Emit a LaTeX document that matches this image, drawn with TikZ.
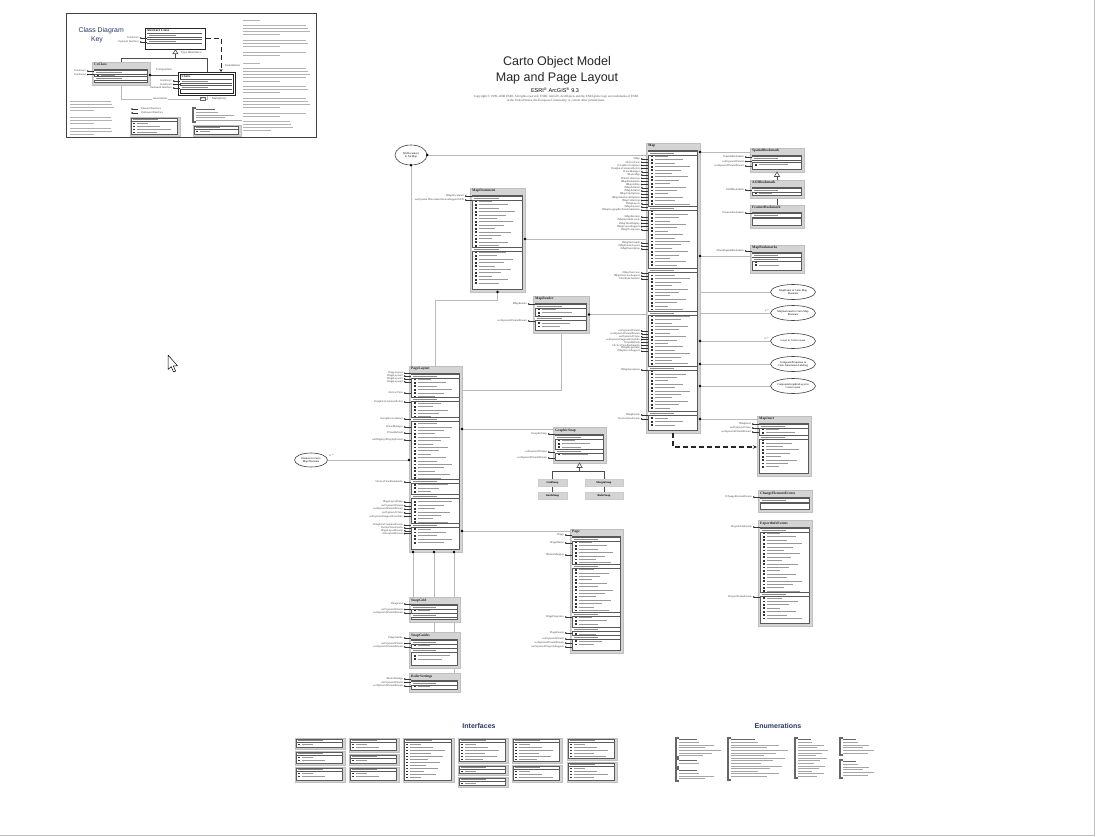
\documentclass[tikz,border=0pt]{standalone}
\usepackage{fontspec}
\setmainfont{Liberation Serif}
\setsansfont{Liberation Sans}
\usepackage{tikz}
\usetikzlibrary{calc,arrows.meta,positioning,shapes.geometric}
\definecolor{boxgray}{RGB}{212,212,212}
\definecolor{edgegray}{RGB}{90,90,90}
\definecolor{linkgray}{RGB}{185,185,185}
\definecolor{keyblue}{RGB}{38,56,104}
\pgfdeclarelayer{back}
\pgfsetlayers{back,main}
\newcounter{lblno}

% header band inside a class box
\newcommand{\clsband}[3]{%
  \fill[white] (#1+2.3,#3-1.6) rectangle (#1+#2-3.3,#3+2.4);
  \draw[edgegray,line width=0.45pt] (#1+2,#3-1.6) -- (#1+#2-3,#3-1.6)
    (#1+2,#3+2.4) -- (#1+#2-3,#3+2.4);
  \draw[black!45,line width=0.7pt] (#1+4,#3+0.4) -- ++(#2*0.45,0);
}
% class: name, x, y, width, height, title, bands
\newcommand{\umlclass}[7]{%
  \node[clsback,minimum width=#4pt,minimum height=#5pt] (#1) at (#2,#3) {};
  \draw[clsinner] (#2+2,#3+7.5) rectangle (#2+#4-3,#3+#5-3);
  \node[clsname] (#1-name) at (#2+1.5,#3+0.8) {#6};
  \pgfmathtruncatemacro\clsrows{(#5-20)/3.4}
  \foreach \i in {0,...,\clsrows}{%
    \pgfmathsetmacro\clsy{#3+13.5+3.4*\i}
    \pgfmathsetmacro\clsl{(#4-17)*(0.35+0.06*mod(\i*7,11))}
    \fill[black!80] (#2+4.5,\clsy-0.9) rectangle ++(2.6,1.8);
    \draw[rowline] (#2+9,\clsy) -- ++(\clsl,0);
  }
  \foreach \s in {#7}{\clsband{#2}{#4}{\s}}%
  \clsband{#2}{#4}{#3+9.6}%
}
% interface lollipop on the left side of a class
\newcommand{\lolli}[3]{%
  \stepcounter{lblno}%
  \draw[lolline] (#1+2,#2) -- (#1-4,#2);
  \fill[black!85] (#1-4.3,#2) circle (0.9pt);
  \node[lbl] (lbl-\arabic{lblno}) at (#1-6,#2) {#3};
}
% interface box: name, x, y, width, height
\newcommand{\umliface}[5]{%
  \node[clsback,minimum width=#4pt,minimum height=#5pt] (#1) at (#2,#3) {};
  \draw[clsinner] (#2+1,#3+1) rectangle (#2+#4-2.5,#3+#5-2);
  \draw[edgegray,line width=0.45pt] (#2+1,#3+4.2) -- (#2+#4-2.5,#3+4.2);
  \draw[black!45,line width=0.7pt] (#2+3,#3+2.6) -- ++(#4*0.5,0);
  \pgfmathtruncatemacro\clsrows{(#5-10)/3}
  \foreach \i in {0,...,\clsrows}{%
    \pgfmathsetmacro\clsy{#3+6.5+3*\i}
    \pgfmathsetmacro\clsl{(#4-14)*(0.3+0.065*mod(\i*5,11))}
    \fill[black!80] (#2+3,\clsy-0.8) rectangle ++(2.4,1.6);
    \draw[rowline] (#2+7,\clsy) -- ++(\clsl,0);
  }
}
% enumeration: name, x, y, width, height
\newcommand{\umlenum}[5]{%
  \coordinate (#1) at (#2,#3);
  \draw[black!60,line width=1.1pt] (#2+3,#3) -- (#2,#3) -- (#2,#3+#5) -- (#2+3,#3+#5);
  \draw[black!60,line width=0.7pt] (#2+3,#3+1.8) -- ++(#4*0.4,0);
  \pgfmathtruncatemacro\clsrows{(#5-6)/2.6}
  \foreach \i in {0,...,\clsrows}{%
    \pgfmathsetmacro\clsy{#3+4.5+2.6*\i}
    \pgfmathsetmacro\clsl{#4*(0.45+0.05*mod(\i*7,11))}
    \draw[black!35,line width=0.6pt] (#2+3,\clsy) -- ++(\clsl,0);
  }
}
% a paragraph of small print
\newcommand{\paralines}[4]{%
  \foreach \i in {1,...,#3}{%
    \pgfmathsetmacro\clsl{\i==#3 ? #4*0.55 : #4*(0.9+0.01*mod(\i*3,10))}
    \draw[black!30,line width=0.55pt] (#1,#2+3.2*\i-3.2) -- ++(\clsl,0);
  }
}
\newcommand{\jdot}[1]{\fill[black] (#1) circle (1.4pt);}

\begin{document}
\begin{tikzpicture}[x=1pt,y=-1pt,>=Stealth,
  clsback/.style={draw=black!25,fill=boxgray,anchor=north west,inner sep=0pt,outer sep=0pt},
  clsinner/.style={draw=edgegray,line width=0.6pt,fill=white},
  clsname/.style={font=\fontsize{3.6}{4}\selectfont\bfseries,inner sep=0.5pt,anchor=north west,text=black!85},
  rowline/.style={draw=black!40,line width=0.9pt},
  lolline/.style={draw=black!80,line width=0.4pt},
  lbl/.style={font=\fontsize{2.8}{3}\selectfont,inner sep=0pt,anchor=east,text=black!75},
  link/.style={draw=linkgray,line width=0.7pt},
  inst/.style={draw=black!85,line width=1.1pt,dash pattern=on 5pt off 3pt},
  ext/.style={ellipse,draw=black!75,line width=0.6pt,fill=white,minimum width=45pt,minimum height=15pt,inner sep=0pt,align=center,font=\fontsize{2.8}{3.2}\selectfont},
  tree/.style={draw=black!70,line width=0.6pt},
  subcls/.style={draw=black!20,fill=boxgray,minimum width=29pt,minimum height=7pt,inner sep=0pt,font=\fontsize{2.8}{3}\selectfont\bfseries},
  heading/.style={font=\sffamily\bfseries\fontsize{7}{8}\selectfont,text=keyblue}]
\useasboundingbox (0,0) rectangle (1097,837);
\draw[black!25] (1094.5,0) -- (1094.5,835.5) -- (0,835.5);

% key
\draw[black!75,line width=0.6pt] (66,13) rectangle (316,137);
\node[font=\sffamily\fontsize{6.9}{7}\selectfont,text=keyblue,anchor=west] (key-title) at (75,31) {Class Diagram};
\node[font=\sffamily\fontsize{6.9}{7}\selectfont,text=keyblue] (key-key) at (97,40) {Key};
\node[draw=black!85,line width=0.8pt,fill=white,minimum width=60pt,minimum height=21pt,anchor=north west,inner sep=0pt] (k-abs) at (145,28) {};
\node[clsname] (k-abs-name) at (146,28.5) {Abstract Class};
\clsband{145}{60}{35}
\clsband{145}{60}{41}
\umlclass{kco}{92}{62}{58}{23}{CoClass}{78}
\node[draw=black!85,line width=1pt,fill=white,minimum width=57pt,minimum height=23pt,anchor=north west,inner sep=0pt] (k-class) at (178,72) {};
\draw[black!85,line width=0.4pt] (180,74) rectangle (233,93);
\node[clsname] (k-class-name) at (181,74.3) {Class};
\clsband{178}{57}{81}
\clsband{178}{57}{87}
\lolli{145}{38}{Interface1}
\lolli{145}{42}{Optional Interface}
\lolli{92}{71}{Interface1}
\lolli{92}{74.5}{Interface2}
\lolli{178}{81}{Interface1}
\lolli{178}{84.5}{Interface2}
\lolli{178}{88}{Outbound Interface}
\node[lbl,font=\fontsize{3}{3.4}\selectfont,anchor=west] (k-inh) at (181,53) {Type Inheritance};
\node[lbl,font=\fontsize{3}{3.4}\selectfont,anchor=west] (k-comp) at (156,70) {Composition};
\node[lbl,font=\fontsize{3}{3.4}\selectfont,anchor=west] (k-inst) at (225,66) {Instantiation};
\node[draw=black!60,fill=white,font=\fontsize{2.6}{3}\selectfont,inner sep=0.6pt] (k-mult) at (203,99) {1..*};
\node[lbl,font=\fontsize{3}{3.4}\selectfont,anchor=west] (k-multl) at (212,99) {Multiplicity};
\draw[lolline] (132,109) -- (138,109);
\fill[black!85] (132,109) circle (0.9pt);
\node[lbl,anchor=west] (k-in) at (141,109) {Inbound Interface};
\draw[lolline,-{Stealth[length=2pt,width=2pt]}] (138,113) -- (131,113);
\node[lbl,anchor=west] (k-out) at (141,113) {Outbound Interface};
\umliface{k-tab}{130}{117}{50}{19}
\umlenum{k-enum}{193}{108}{48}{14}
\umliface{k-iface}{193}{125}{48}{11}
\paralines{70}{101}{4}{44}
\paralines{70}{117}{3}{44}
\paralines{70}{128}{3}{44}
\paralines{243}{20}{1}{30}
\paralines{243}{25}{4}{68}
\paralines{243}{40}{3}{68}
\paralines{243}{52}{2}{68}
\paralines{243}{63}{1}{30}
\paralines{243}{68}{5}{68}
\paralines{243}{86}{3}{68}
\paralines{243}{98}{4}{68}
\paralines{243}{113}{2}{68}
\paralines{243}{121}{4}{50}
\draw[tree,fill=white] (k-abs.south) -- ++(-2.5,4) -- ++(5,0) -- cycle;
\draw[inst,line width=0.9pt,-{Stealth[length=3pt,width=3pt]}] (k-abs.east |- 0,38) -| ([xshift=14pt]k-class.north);
\draw[black!70,line width=0.5pt] (kco.east |- 0,75) -- (k-class.west |- 0,75);
\jdot{kco.east |- 0,75}

% title
\node[font=\sffamily\fontsize{12.5}{13}\selectfont,text=black!85] (title1) at (557,62) {Carto Object Model};
\node[font=\sffamily\fontsize{12.5}{13}\selectfont,text=black!85] (title2) at (557,78) {Map and Page Layout};
\node[font=\sffamily\fontsize{5.5}{6}\selectfont] (title3) at (555,90) {ESRI\textsuperscript{®} ArcGIS\textsuperscript{®} 9.3};
\node[font=\fontsize{3.2}{3.6}\selectfont,align=center,text=black!70] (copy) at (556,98.5) {Copyright © 1999–2008 ESRI. All rights reserved. ESRI, ArcGIS, ArcObjects and the ESRI globe logo are trademarks of ESRI\\in the United States, the European Community, or certain other jurisdictions.};

% external classes
\node[ext,minimum width=32pt,minimum height=20pt] (mxdoc) at (411,155) {MxDocument\\in ArcMap};
\node[ext] (e-frame) at (793,292) {MapFrame in Carto Map\\Elements};
\node[ext] (e-surround) at (793,313) {MapSurround in Carto Map\\Elements};
\node[ext] (e-layer) at (793,341) {Layer in Carto Layers};
\node[ext] (e-props) at (793,364) {CompositeProperties in\\Carto Annotation Labeling};
\node[ext] (e-graphics) at (793,386) {CompositeGraphicsLayer in\\Carto Layers};
\node[ext,minimum width=33pt,minimum height=14pt] (e-element) at (311,460) {Element in Carto\\Map Elements};
\node[lbl] (m-surround) at (769,311) {1..*};
\node[lbl] (m-layer) at (769,339) {0..*};
\node[lbl,anchor=west] (m-element) at (329,456) {0..*};

% classes
\umlclass{mapdoc}{470}{188}{55}{104}{MapDocument}{249}
\umlclass{map}{646}{143}{54}{290}{Map}{208,270,313,368,413}
\umlclass{mapreader}{533}{296}{56}{37}{MapReader}{318}
\umlclass{pagelayout}{409}{366}{53}{186}{PageLayout}{399,419,481,496,525}
\umlclass{graphicsnap}{553}{427}{53}{36}{GraphicSnap}{451}
\umlclass{page}{570}{529}{53}{124}{Page}{566,614,629,637}
\umlclass{snapgrid}{409}{597}{51}{25}{SnapGrid}{615}
\umlclass{snapguides}{409}{632}{51}{36}{SnapGuides}{650}
\umlclass{rulersettings}{409}{673}{51}{19}{RulerSettings}{683}
\umlclass{sbmark}{750}{148}{54}{24}{SpatialBookmark}{160}
\umlclass{aoimark}{750}{180}{54}{18}{AOIBookmark}{190}
\umlclass{featmark}{750}{205}{54}{23}{FeatureBookmark}{216}
\umlclass{bookmarks}{750}{245}{54}{28}{MapBookmarks}{259}
\umlclass{mapinset}{757}{416}{54}{60}{MapInset}{437}
\umlclass{changeev}{758}{490}{54}{22}{ChangeElementEvents}{501}
\umlclass{exportev}{758}{520}{54}{106}{ExportInfoEvents}{594}
\node[subcls] (gridsnap) at (552.5,483) {GridSnap};
\node[subcls,minimum width=38pt] (marginsnap) at (604,483) {MarginSnap};
\node[subcls] (guidesnap) at (552.5,495.5) {GuideSnap};
\node[subcls,minimum width=38pt] (rulersnap) at (604,495.5) {RulerSnap};

% interfaces of the classes
\foreach \nm [count=\k] in {IMap,IActiveView,IGraphicsContainer,IGraphicsContainerSelect,IViewManager,IBasicMap,ITableCollection,IMapBookmarks,IMapAdmin,IMapAdmin2,IMapAdmin3,IMapClipOptions,IMapAutoExtentOptions,IMapCollection,IMapLayers,IMapLayers2,IMapGeographicTransformations}
  {\lolli{646}{155.8+3.2*\k}{\nm}}
\foreach \nm [count=\k] in {IMapBarriers,IMapSymbolLevels,IMapTimeDisplay,IMapCursorSupport,IMapOverposter}
  {\lolli{646}{213.8+3.2*\k}{\nm}}
\foreach \nm [count=\k] in {IMapSurrounds,IMapFrameLayout,IMapDescription}
  {\lolli{646}{240+3*\k}{\nm}}
\foreach \nm [count=\k] in {IMapOverview,IMapOverviewSupport,IAttributeTransfer}
  {\lolli{646}{270+3*\k}{\nm}}
\foreach \nm [count=\k] in {esriSystem.IPersist,esriSystem.IPersistStream,esriSystem.IClone,esriSystem.ISupportErrorInfo,IViewRefresh,IActiveViewBookmarks,IMapHyperlinks,IMapServerSupport}
  {\lolli{646}{328+2.9*\k}{\nm}}
\lolli{646}{370}{IMapAnnotation}
\lolli{646}{415}{IMapEvents}
\lolli{646}{419}{IActiveViewEvents}
\lolli{470}{196}{IMapDocument}
\lolli{470}{200}{esriSystem.IDocumentVersionSupportGEN}
\lolli{533}{304}{IMapReader}
\lolli{533}{321}{esriSystem.IPersistStream}
\foreach \nm [count=\k] in {IPageLayout,IPageLayout2,IPageLayout3,IPageLayout4}
  {\lolli{409}{370.5+2.8*\k}{\nm}}
\foreach \yy/\nm in {393/IActiveView,402/IGraphicsContainerSelect,419/IGraphicsContainer,427/IViewManager,433/IViewRefresh,440/esriDisplay.IDisplayEvents,482/IActiveViewBookmarks}
  {\lolli{409}{\yy}{\nm}}
\foreach \nm [count=\k] in {IPageLayoutSnap,esriSystem.IPersist,esriSystem.IPersistStream,esriSystem.IClone,esriSystem.ISupportErrorInfo}
  {\lolli{409}{498.5+3.6*\k}{\nm}}
\foreach \nm [count=\k] in {IGraphicsContainerEvents,IActiveViewEvents,IPageLayoutEvents,IDocumentEvents}
  {\lolli{409}{522.4+2.8*\k}{\nm}}
\foreach \yy/\nm in {434/IGraphicSnap,452/esriSystem.IPersist,458/esriSystem.IPersistStream}
  {\lolli{553}{\yy}{\nm}}
\foreach \yy/\nm in {535/IPage,543/IPageMarks,555/IPrinterMargins,617/IPageProperties,633/IPageEvents,639/esriSystem.IPersist,643/esriSystem.IPersistStream,647/esriSystem.IPropertySupport}
  {\lolli{570}{\yy}{\nm}}
\foreach \yy/\nm in {604/ISnapGrid,609.5/esriSystem.IPersist,613/esriSystem.IPersistStream,638/ISnapGuides,643.5/esriSystem.IPersist,647/esriSystem.IPersistStream,679/IRulerSettings,682.5/esriSystem.IPersist,686/esriSystem.IPersistStream}
  {\lolli{409}{\yy}{\nm}}
\foreach \yy/\nm in {157/ISpatialBookmark,161.5/esriSystem.IPersist,166/esriSystem.IPersistStream,190/IAOIBookmark,213/IFeatureBookmark,251/IEnumSpatialBookmark}
  {\lolli{750}{\yy}{\nm}}
\foreach \yy/\nm in {424/IMapInset,428/esriSystem.IClone,432/esriSystem.IPersistStream}
  {\lolli{757}{\yy}{\nm}}
\foreach \yy/\nm in {497/IChangeElementEvents,527/IExportInfoEvents,597/IExportFrameEvents}
  {\lolli{758}{\yy}{\nm}}

% inheritance
\draw[tree,fill=white] (graphicsnap.south) -- ++(-2.6,4.5) -- ++(5.2,0) -- cycle;
\draw[tree,fill=white] (sbmark.south) -- ++(-2.6,4.5) -- ++(5.2,0) -- cycle;

% connectors
\begin{pgfonlayer}{back}
\draw[link] (mxdoc.east) -- (mxdoc.east -| map.west);
\draw[link] (mxdoc.south) -- (mxdoc.south |- pagelayout.north);
\draw[link] (mapdoc.east |- 0,239) -- (map.west |- 0,239);
\draw[link] (mapdoc.south) -- ++(0,8) -| (pagelayout.north);
\draw[link] (mapreader.east) -- (mapreader.east -| map.west);
\draw[link] (mapreader.south) |- (pagelayout.east |- 0,390);
\draw[link] (map.east |- 0,152) -- (sbmark.west |- 0,152);
\draw[link] (map.east |- 0,256) -- (bookmarks.west |- 0,256);
\foreach \e in {e-frame,e-surround,e-layer,e-props,e-graphics}
  \draw[link] (\e.west) -- (\e.west -| map.east);
\draw[link] (map.east |- 0,419) -- (mapinset.west |- 0,419);
\draw[link] (pagelayout.east |- 0,429) -- (graphicsnap.west |- 0,429);
\draw[link] (pagelayout.east |- 0,531) -- (page.west |- 0,531);
\draw[link] (e-element.east) -- (e-element.east -| pagelayout.west);
\draw[link] ([xshift=4pt]pagelayout.south west) -- ([xshift=4pt]snapgrid.north west);
\draw[link] ([xshift=25pt]pagelayout.south west) -- ([xshift=25pt]snapguides.north west);
\draw[link] ([xshift=45pt]pagelayout.south west) -- ([xshift=45pt]rulersettings.north west);
\draw[tree] ([yshift=-4.5pt]graphicsnap.south) -- ++(0,4) coordinate (gs-fork);
\draw[tree] (gridsnap.north) |- (gs-fork) -| (marginsnap.north);
\draw[tree] (gridsnap) -- (guidesnap) (marginsnap) -- (rulersnap);
\draw[tree] ([yshift=-4.5pt]sbmark.south) -- (aoimark.north);
\draw[tree] (aoimark.south) -- (featmark.north);
\draw[tree] ([yshift=-4pt]k-abs.south) -- ++(0,5) coordinate (k-fork);
\draw[tree] (kco.north) |- (k-fork) -| (k-class.north);
\draw[link] (kco.south) |- (k-class.south |- 0,99) -- (k-class.south);
\end{pgfonlayer}
\node[lbl,font=\fontsize{3}{3.4}\selectfont,fill=white,inner sep=0.5pt,anchor=center] (k-assoc) at (160,99) {Association};
\draw[inst,-{Stealth[length=4pt,width=3.5pt]}] (map.south) |- (mapinset.west |- 0,447);
\jdot{mxdoc.east}
\jdot{mxdoc.south}
\jdot{mapdoc.east |- 0,239}
\jdot{mapdoc.south}
\jdot{mapreader.east}
\jdot{map.east |- 0,152}
\jdot{map.east |- 0,256}
\jdot{e-layer.west -| map.east}
\jdot{e-props.west -| map.east}
\jdot{e-graphics.west -| map.east}
\jdot{map.east |- 0,419}
\jdot{pagelayout.east |- 0,429}
\jdot{pagelayout.east |- 0,531}
\jdot{e-element.east -| pagelayout.west}
\jdot{[xshift=4pt]pagelayout.south west}
\jdot{[xshift=25pt]pagelayout.south west}
\jdot{[xshift=45pt]pagelayout.south west}

% interfaces
\node[heading] (if-title) at (479,726) {Interfaces};
\umliface{if11}{295}{738}{50}{11}
\umliface{if12}{295}{751}{50}{14}
\umliface{if13}{295}{767}{50}{15}
\umliface{if21}{349}{738}{50}{14}
\umliface{if22}{349}{754}{50}{11}
\umliface{if23}{349}{767}{50}{15}
\umliface{if31}{403}{738}{51}{44}
\umliface{if41}{458}{738}{50}{25}
\umliface{if42}{458}{765}{50}{10}
\umliface{if43}{458}{777}{50}{10}
\umliface{if51}{512}{738}{50}{25}
\umliface{if52}{512}{765}{50}{17}
\umliface{if61}{567}{738}{50}{22}
\umliface{if62}{567}{762}{50}{20}

% enumerations
\node[heading] (en-title) at (778,726) {Enumerations};
\umlenum{en11}{676}{738}{44}{19}
\umlenum{en12}{676}{759}{44}{8}
\umlenum{en13}{676}{769}{44}{12}
\umlenum{en21}{728}{738}{60}{42}
\umlenum{en31}{795}{738}{32}{40}
\umlenum{en41}{840}{738}{33}{17}
\umlenum{en42}{840}{760}{33}{18}

% mouse pointer
\draw[black,fill=white,line width=0.5pt,line join=round] (168,355) -- (168,369.5) -- (171.2,366.6) -- (173.6,372) -- (175.6,371.1) -- (173.3,365.8) -- (177.5,365.8) -- cycle;
\end{tikzpicture}
\end{document}
